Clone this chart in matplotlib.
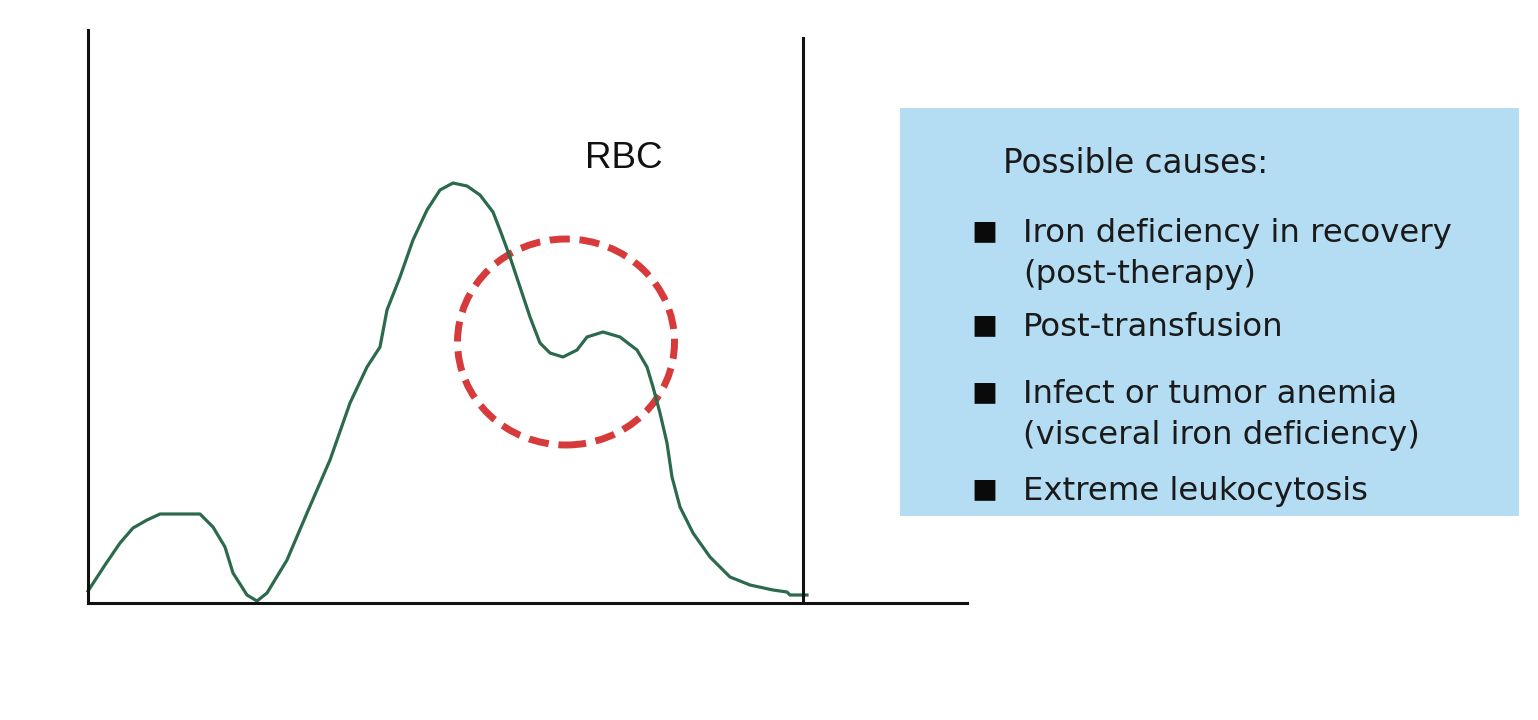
# RBC histogram with a dimorphic (second) population circled
import matplotlib
matplotlib.use("Agg")
from matplotlib import pyplot as plt
from matplotlib.patches import Ellipse, Rectangle

# =============================================================================
# data (channel vs relative count)
# =============================================================================
curve_x = [0, 2, 17, 32, 45, 59, 72, 112, 125, 137, 145, 159, 169, 179, 199,
           219, 242, 262, 279, 292, 299, 312, 325, 339, 352, 365, 379, 392,
           405, 412, 422, 432, 442, 452, 462, 475, 489, 499, 515, 532, 549,
           559, 565, 572, 579, 584, 592, 605, 622, 642, 662, 685, 699, 702,
           719]
curve_y = [12, 15, 38, 60, 75, 83, 89, 89, 76, 56, 30, 8, 2, 10, 43,
           90, 143, 200, 236, 256, 293, 326, 363, 393, 413, 420, 417, 408,
           391, 373, 346, 316, 286, 260, 250, 246, 253, 266, 271, 266, 253,
           236, 216, 190, 160, 126, 96, 70, 46, 26, 18, 13, 11, 8,
           8]

upper_limit = 715          # vertical discriminator line
circle_center = (478, 261)
circle_size = (217, 206)

title = "RBC"
box_title = "Possible causes:"
causes = [
    "Iron deficiency in recovery\n(post-therapy)",
    "Post-transfusion",
    "Infect or tumor anemia\n(visceral iron deficiency)",
    "Extreme leukocytosis",
]

W, H = 1538, 720
font = ["Liberation Sans", "DejaVu Sans"]
box_font = ["DejaVu Sans"]
plt.rcParams["font.family"] = font


def fx(px):
    return px / W


def fy(py):
    return 1 - py / H


fig = plt.figure(figsize=(W / 100, H / 100), dpi=100)

# --> histogram axes
ax = fig.add_axes([fx(88), fy(603), (967 - 88) / W, (603 - 30) / H])
ax.set_xlim(0, 879)
ax.set_ylim(0, 573)
ax.plot(curve_x, curve_y, color="#2b6a4c", lw=2.3, solid_joinstyle="round",
        clip_on=False)
ax.axvline(upper_limit, ymin=0, ymax=(603 - 38) / 573, color="#111111",
           lw=2.2)
ax.add_patch(Ellipse(circle_center, circle_size[0], circle_size[1],
                     fill=False, edgecolor="#d63a3a", lw=5.0,
                     linestyle=(0, (2.9, 1.4)), capstyle="butt"))
ax.text(536, 445, title, fontsize=26.5, color="#111111", ha="center",
        va="center")
for side in ["top", "right"]:
    ax.spines[side].set_visible(False)
for side in ["left", "bottom"]:
    ax.spines[side].set_linewidth(2.2)
    ax.spines[side].set_color("#111111")
ax.set_xticks([])
ax.set_yticks([])

# --> blue box with the list of causes
fig.patches.append(Rectangle((fx(900), fy(516)), (1519 - 900) / W,
                             (516 - 108) / H, transform=fig.transFigure,
                             facecolor="#b4dcf2", edgecolor="none"))
fig.text(fx(1003), fy(173), box_title, fontsize=23.5, color="#1a1a1a",
         va="baseline", ha="left", family=box_font)
baselines = [242, 336, 403, 500]
line_step = 41
for yy, txt in zip(baselines, causes):
    fig.text(fx(984), fy(yy - 9), "\u25a0", fontsize=31, color="#0a0a0a",
             va="center", ha="center", family=font)
    for k, line in enumerate(txt.split("\n")):
        fig.text(fx(1023), fy(yy + k * line_step), line, fontsize=23.3,
                 color="#1a1a1a", va="baseline", ha="left", family=box_font)

fig.savefig("out.png", dpi=100)
